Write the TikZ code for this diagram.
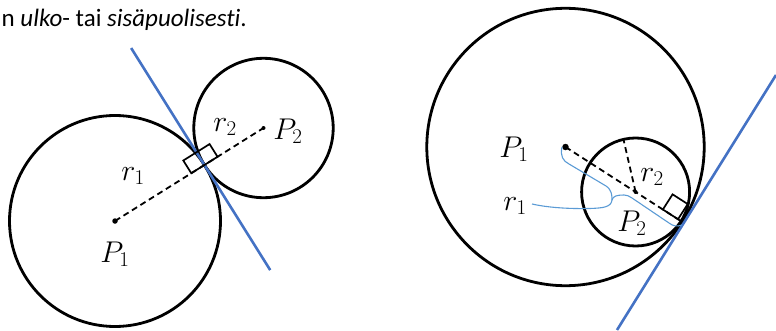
\RequirePackage{fix-cm}
\documentclass[tikz,border=0pt]{standalone}
\usepackage{fontspec}
\setmainfont{Carlito}[Ligatures=NoCommon]
\usetikzlibrary{calc}
\definecolor{tblue}{HTML}{4472C4}
\definecolor{bblue}{HTML}{5B9BD5}
\begin{document}
\begin{tikzpicture}[x=1pt,y=1pt,
  circ/.style={draw=black,line width=2.8pt},
  tang/.style={draw=tblue,line width=2.6pt},
  rad/.style={draw=black,line width=1.8pt,dash pattern=on 6pt off 4pt},
  rmark/.style={draw=black,line width=1.7pt},
  bracecurve/.style={draw=bblue,line width=1.1pt},
  dot/.style={circle,fill=black,inner sep=0pt,minimum size=5.5pt},
  lab/.style={inner sep=0pt,font=\fontsize{30}{36}\selectfont}]
\useasboundingbox (0,0) rectangle (776,330);

% heading text
\node[anchor=base west,inner sep=0pt,font=\fontsize{25}{30}\selectfont] (head) at (1.5,303.3)
  {n \textit{ulko}- tai \textit{sisäpuolisesti}.};

% ---------- left: external tangency ----------
\coordinate (C1) at (115,109);
\coordinate (C2) at (263.5,202);
\coordinate (T) at ($(C1)!105.5pt!(C2)$);
\draw[circ] (C1) circle[radius=105.5];
\draw[circ] (C2) circle[radius=69.7];
\coordinate (TA) at ($(T)!138pt!90:(C2)$);
\coordinate (TB) at ($(T)!124pt!-90:(C2)$);
\draw[tang] (TA) -- (TB);
\draw[rad] (C1) -- (C2);
\begin{scope}[shift={(T)},rotate=32.06]
  \draw[rmark] (-15.5,0) rectangle (15.5,15);
\end{scope}
\node[dot] (P1dot) at (C1) {};
\node[dot,minimum size=4pt] (P2dot) at (C2) {};
\node[lab] (lr1) at (133,154) {$r_1$};
\node[lab] (lr2) at (225,203) {$r_2$};
\node[lab] (lP2) at (288,199) {$P_2$};
\node[lab] (lP1) at (115,76) {$P_1$};

% ---------- right: internal tangency ----------
\coordinate (C3) at (565.5,183);
\coordinate (C4) at (635.6,138);
\coordinate (T2) at ($(C3)!138.7pt!(C4)$);
\draw[circ] (C3) circle[radius=138.7];
\draw[circ] (C4) circle[radius=54];
\coordinate (UA) at (617,0);
\coordinate (UB) at (776,255);
\draw[tang] (UA) -- (UB);
\draw[rad] (C3) -- (T2);
\coordinate (R2end) at ($(C4)+(103:54)$);
\draw[rad] (C4) -- (R2end);
\begin{scope}[shift={(T2)},rotate=-32.7]
  \draw[rmark] (-23,0) rectangle (-5,18);
\end{scope}
\node[dot,minimum size=6.5pt] (P1dotb) at (C3) {};
\node[dot,minimum size=4pt] (P2dotb) at (C4) {};
\node[lab] (rP1) at (514,181) {$P_1$};
\node[lab] (rr1) at (515,124) {$r_1$};
\node[lab] (rr2) at (652,153) {$r_2$};
\node[lab] (rP2) at (632,107) {$P_2$};

% brace for r1
\coordinate (BA) at (562,183);
\coordinate (Tip) at (612,130);
\coordinate (BL) at (532,126);
\coordinate (BR) at (682,105);
\draw[bracecurve] (BA) .. controls (560,174) and (563,169) .. (569,166)
  -- (606,144) .. controls (612,140) and (612,134) .. (Tip);
\draw[bracecurve] (Tip) .. controls (611,123) and (604,122) .. (590,121.5)
  .. controls (565,121) and (545,123) .. (BL);
\draw[bracecurve] (Tip) .. controls (613,134) and (617,135) .. (624,135)
  .. controls (627,135) and (629,134) .. (632,132) -- (669,107)
  .. controls (673,104) and (677,103) .. (BR);
\end{tikzpicture}
\end{document}
